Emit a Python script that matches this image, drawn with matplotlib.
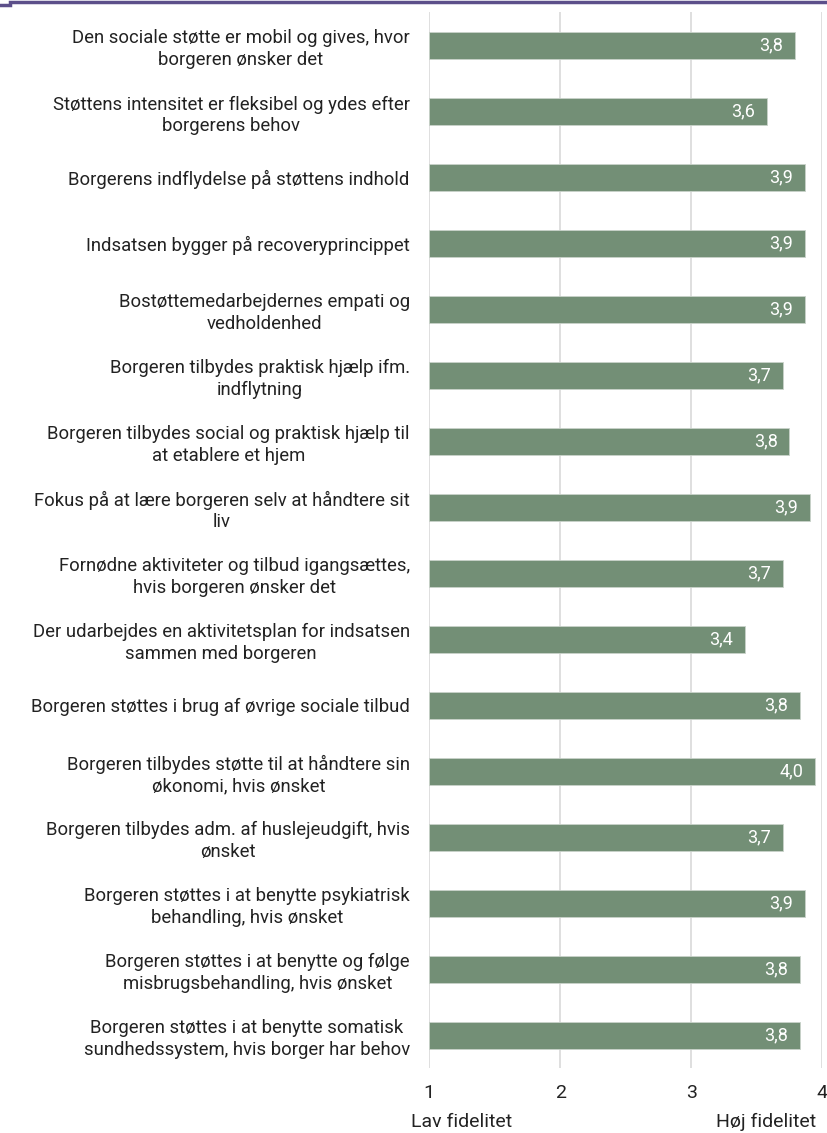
import matplotlib.pyplot as plt
from matplotlib.lines import Line2D

labels = [
    "Den sociale støtte er mobil og gives, hvor\nborgeren ønsker det",
    "Støttens intensitet er fleksibel og ydes efter\nborgerens behov",
    "Borgerens indflydelse på støttens indhold",
    "Indsatsen bygger på recoveryprincippet",
    "Bostøttemedarbejdernes empati og\nvedholdenhed",
    "Borgeren tilbydes praktisk hjælp ifm.\nindflytning",
    "Borgeren tilbydes social og praktisk hjælp til\nat etablere et hjem",
    "Fokus på at lære borgeren selv at håndtere sit\nliv",
    "Fornødne aktiviteter og tilbud igangsættes,\nhvis borgeren ønsker det",
    "Der udarbejdes en aktivitetsplan for indsatsen\nsammen med borgeren",
    "Borgeren støttes i brug af øvrige sociale tilbud",
    "Borgeren tilbydes støtte til at håndtere sin\nøkonomi, hvis ønsket",
    "Borgeren tilbydes adm. af huslejeudgift, hvis\nønsket",
    "Borgeren støttes i at benytte psykiatrisk\nbehandling, hvis ønsket",
    "Borgeren støttes i at benytte og følge\nmisbrugsbehandling, hvis ønsket",
    "Borgeren støttes i at benytte somatisk\nsundhedssystem, hvis borger har behov",
]
values = [3.79, 3.58, 3.87, 3.87, 3.87, 3.70, 3.75, 3.91,
          3.70, 3.41, 3.83, 3.95, 3.70, 3.87, 3.83, 3.83]
value_labels = ["3,8", "3,6", "3,9", "3,9", "3,9", "3,7", "3,8", "3,9",
                "3,7", "3,4", "3,8", "4,0", "3,7", "3,9", "3,8", "3,8"]
ticks = [1, 2, 3, 4]

plt.rcParams["font.family"] = ["Roboto", "DejaVu Sans"]

fig = plt.figure(figsize=(8.27, 11.33), dpi=100)
ax = fig.add_axes([0.519, 0.057, 0.475, 0.932])

bar_color = "#738f76"
ypos = range(len(values))
ax.barh(ypos, [v - 1 for v in values], left=1, height=0.4,
        color=bar_color, edgecolor="#c9d3ca", linewidth=0.6, zorder=3)

for y, v, t in zip(ypos, values, value_labels):
    ax.text(v - 0.09, y, t, ha="right", va="center", color="white",
            fontsize=13, zorder=4)

ax.set_xlim(1, 4)
ax.set_ylim(len(values) - 0.5, -0.5)
ax.set_xticks(ticks)
ax.set_xticklabels([str(t) for t in ticks], fontsize=14, color="#222222")
ax.tick_params(axis="x", length=0, pad=11)
ax.set_yticks(list(ypos))
ax.set_yticklabels(labels, fontsize=13.3, color="#222222", ha="right",
                   multialignment="center", linespacing=1.22)
ax.tick_params(axis="y", length=0, pad=14)
ax.grid(axis="x", color="#d9d9d9", linewidth=1.2, zorder=0)
for s in ax.spines.values():
    s.set_visible(False)

fig.text(0.558, 0.002, "Lav fidelitet", ha="center", va="bottom",
         fontsize=14, color="#222222")
fig.text(0.926, 0.002, "Høj fidelitet", ha="center", va="bottom",
         fontsize=14, color="#222222")

# purple rule along the top edge
fig.add_artist(Line2D([0.012, 1.0], [0.9985, 0.9985], color="#5c4f8a",
                      linewidth=2.5, transform=fig.transFigure))
fig.add_artist(Line2D([0.0, 0.012], [0.996, 0.996], color="#5c4f8a",
                      linewidth=2.5, transform=fig.transFigure))

plt.savefig("out.png", dpi=100)
